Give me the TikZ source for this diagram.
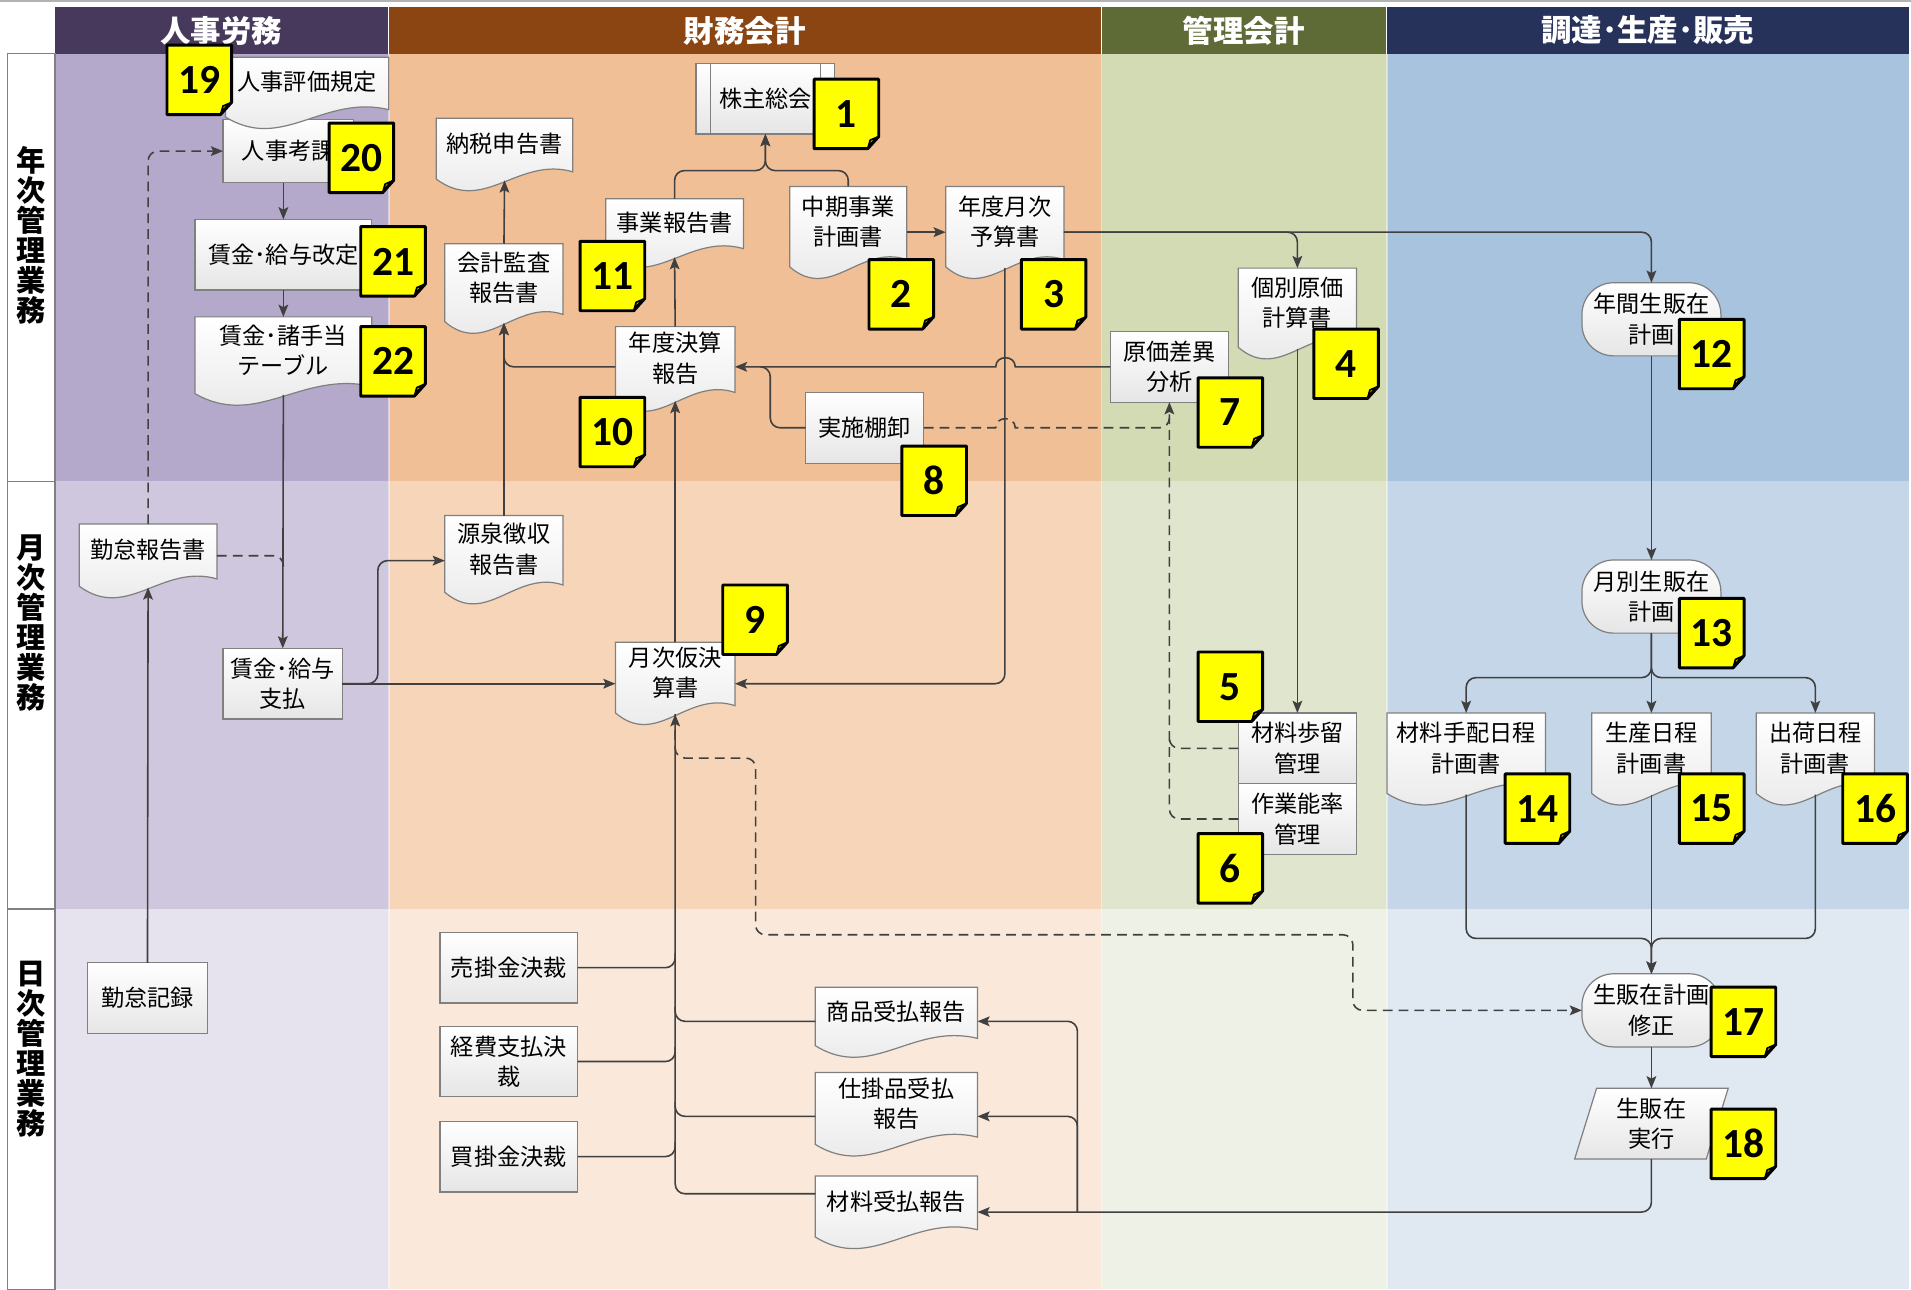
\documentclass[tikz,border=0pt]{standalone}
\usepackage{fontspec}
\setmainfont{Noto Sans CJK JP}
\newfontfamily\numfont{Carlito}
\usetikzlibrary{arrows.meta}
\definecolor{hdA}{HTML}{46395C}
\definecolor{hdB}{HTML}{8B4513}
\definecolor{hdC}{HTML}{5E6B36}
\definecolor{hdD}{HTML}{263259}
\definecolor{pA1}{HTML}{B4A9CA}
\definecolor{pA2}{HTML}{CFC7DD}
\definecolor{pA3}{HTML}{E6E2EE}
\definecolor{pB1}{HTML}{F1BF95}
\definecolor{pB2}{HTML}{F6D5B8}
\definecolor{pB3}{HTML}{FAE9DB}
\definecolor{pC1}{HTML}{D3DBB5}
\definecolor{pC2}{HTML}{E0E5CE}
\definecolor{pC3}{HTML}{EEF1E6}
\definecolor{pD1}{HTML}{A8C3DE}
\definecolor{pD2}{HTML}{C4D6E8}
\definecolor{pD3}{HTML}{E0E9F2}
\definecolor{edgec}{HTML}{808080}
\definecolor{wirec}{HTML}{404040}
\definecolor{badgeY}{HTML}{FFFF00}
\tikzset{
 mybox/.style={draw=edgec, line width=0.5pt, top color=white, bottom color=black!10, inner sep=0pt, outer sep=0pt, align=center, font=\fontsize{9.5}{12.5}\selectfont},
 docfill/.style={draw=edgec, line width=0.5pt, top color=white, bottom color=black!10},
 ntext/.style={inner sep=0pt, outer sep=0pt, align=center, font=\fontsize{9.5}{12.5}\selectfont},
 term/.style={mybox, rounded corners=13pt, minimum width=57pt, minimum height=30pt},
 conn/.style={draw=wirec, line width=0.65pt, rounded corners=4pt, -{Stealth[length=5pt,width=4pt,inset=1pt]}},
 wire/.style={draw=wirec, line width=0.65pt, rounded corners=4pt},
 dconn/.style={conn, dash pattern=on 4pt off 2.5pt},
 dwire/.style={wire, dash pattern=on 4pt off 2.5pt},
 hdr/.style={text=white, inner sep=0pt, font=\bfseries\fontsize{12.5}{14}\selectfont},
 rowlbl/.style={align=center, inner sep=0pt, font=\bfseries\fontsize{12}{12.3}\selectfont},
 badgebg/.style={fill=badgeY, draw=black, line width=1.2pt, line join=round},
 badgetxt/.style={inner sep=0pt, font=\numfont\bfseries\fontsize{17}{17}\selectfont},
}
\newcommand\DocN[6]{%
  \path[docfill] (#2,#3) -- (#4,#3) -- (#4,#5-15) .. controls ({#2+0.6*(#4-#2)},#5-28) and ({#2+0.35*(#4-#2)},#5+20) .. (#2,#5-9) -- cycle;
  \node[ntext, minimum width={(#4-#2)*0.5pt}, minimum height={(#5-8-#3)*0.5pt}] (#1) at ({(#2+#4)/2},{(#3+#5-8)/2}) {};
  \node[ntext] (#1t) at ([yshift=2.25pt]#1.center) {#6};
}
\newcommand\RectN[6]{%
  \node[mybox, minimum width={(#4-#2)*0.5pt}, minimum height={(#5-#3)*0.5pt}] (#1) at ({(#2+#4)/2},{(#3+#5)/2}) {#6};
}
\newcommand\Badge[4]{%
  \path[badgebg] (#2,#3) -- (#2+53,#3) -- (#2+53,#3+47) -- (#2+44,#3+57) -- (#2,#3+57) -- cycle;
  \draw[black, line width=0.7pt, fill=badgeY!80!black, line join=round] (#2+44,#3+57) -- (#2+46,#3+50) -- (#2+53,#3+47) .. controls (#2+49,#3+50) and (#2+46,#3+53) .. (#2+44,#3+57);
  \node[badgetxt] (#1) at (#2+26.5,#3+28.5) {#4};
}
\begin{document}
\begin{tikzpicture}[x=0.5pt,y=-0.5pt]
\useasboundingbox (0,0) rectangle (1568,1058);
\fill[white] (0,0) rectangle (1568,1058);
\draw[black!30, line width=1pt] (0,1) -- (1568,1);
% lanes
\fill[pA1] (45,44) rectangle (319,395);
\fill[pB1] (319,44) rectangle (904,395);
\fill[pC1] (904,44) rectangle (1138,395);
\fill[pD1] (1138,44) rectangle (1566,395);
\fill[pA2] (45,395) rectangle (319,746);
\fill[pB2] (319,395) rectangle (904,746);
\fill[pC2] (904,395) rectangle (1138,746);
\fill[pD2] (1138,395) rectangle (1566,746);
\fill[pA3] (45,746) rectangle (319,1058);
\fill[pB3] (319,746) rectangle (904,1058);
\fill[pC3] (904,746) rectangle (1138,1058);
\fill[pD3] (1138,746) rectangle (1566,1058);
\foreach \xx in {319,904,1138} {\draw[white, opacity=0.45, line width=0.6pt] (\xx,44) -- (\xx,1058);}
% headers
\fill[hdA] (45,6) rectangle (318,44);
\fill[hdB] (319,6) rectangle (903,44);
\fill[hdC] (904,6) rectangle (1137,44);
\fill[hdD] (1138,6) rectangle (1566,44);
\node[hdr] (hA) at (181.5,25) {人事労務};
\node[hdr] (hB) at (611,25) {財務会計};
\node[hdr] (hC) at (1020.5,25) {管理会計};
\node[hdr] (hD) at (1352,25) {調達･生産･販売};
% row labels
\draw[edgec, line width=0.6pt] (6,44) rectangle (45,1058);
\draw[edgec, line width=0.6pt] (6,395) -- (45,395);
\draw[edgec, line width=0.6pt] (6,746) -- (45,746);
\node[rowlbl] (r1) at (25.5,193) {年\\次\\管\\理\\業\\務};
\node[rowlbl] (r2) at (25.5,511) {月\\次\\管\\理\\業\\務};
\node[rowlbl] (r3) at (25.5,861) {日\\次\\管\\理\\業\\務};
% ---- 人事労務
\RectN{kouka}{183}{98}{290}{150}{人事考課}
\DocN{hyoka}{185}{47}{319}{105}{人事評価規定}
\RectN{kaitei}{160}{180}{305}{238}{賃金･給与改定}
\DocN{teate}{160}{260}{305}{332}{賃金･諸手当\\テーブル}
\DocN{kintai}{65}{430}{178}{490}{勤怠報告書}
\RectN{shiharai}{183}{532}{281}{590}{賃金･給与\\支払}
\RectN{kiroku}{72}{790}{170}{848}{勤怠記録}
% ---- 財務会計
\DocN{nozei}{358}{97}{470}{156}{納税申告書}
\RectN{kabu}{571}{52}{685}{110}{株主総会}
\draw[edgec, line width=0.5pt] ([xshift=6pt]kabu.north west) -- ([xshift=6pt]kabu.south west);
\draw[edgec, line width=0.5pt] ([xshift=-6pt]kabu.north east) -- ([xshift=-6pt]kabu.south east);
\DocN{jigyo}{497}{163}{610}{219}{事業報告書}
\DocN{chuki}{648}{153}{744}{228}{中期事業\\計画書}
\DocN{yosan}{776}{153}{873}{228}{年度月次\\予算書}
\DocN{kansa}{365}{200}{462}{273}{会計監査\\報告書}
\DocN{kessan}{505}{268}{603}{337}{年度決算\\報告}
\RectN{tana}{661}{322}{758}{380}{実施棚卸}
\DocN{gensen}{365}{423}{462}{495}{源泉徴収\\報告書}
\DocN{getsuji}{505}{527}{603}{594}{月次仮決\\算書}
\RectN{urikake}{361}{765}{474}{823}{売掛金決裁}
\RectN{keihi}{361}{842}{474}{900}{経費支払決\\裁}
\RectN{kaikake}{361}{920}{474}{978}{買掛金決裁}
\DocN{shohin}{669}{810}{802}{867}{商品受払報告}
\DocN{shikake}{669}{880}{802}{948}{仕掛品受払\\報告}
\DocN{zairyo}{669}{965}{802}{1024}{材料受払報告}
% ---- 管理会計
\DocN{kobetsu}{1016}{220}{1113}{294}{個別原価\\計算書}
\RectN{genka}{911}{272}{1008}{330}{原価差異\\分析}
\RectN{buri}{1016}{585}{1113}{643}{材料歩留\\管理}
\RectN{noritsu}{1016}{643}{1113}{701}{作業能率\\管理}
% ---- 調達・生産・販売
\node[term] (nenkan) at (1355,262) {年間生販在\\計画};
\node[term] (getsubetsu) at (1355,489.5) {月別生販在\\計画};
\DocN{tehai}{1138}{585}{1268}{660}{材料手配日程\\計画書}
\DocN{seisan}{1306}{585}{1404}{660}{生産日程\\計画書}
\DocN{shukka}{1441}{585}{1538}{660}{出荷日程\\計画書}
\node[term] (shusei) at (1355,829) {生販在計画\\修正};
\path[docfill] (1310,893) -- (1418,893) -- (1400,951) -- (1292,951) -- cycle;
\node[ntext, minimum width=45pt, minimum height=29pt] (jikko) at (1355,922) {生販在\\実行};
% ---- coordinates
\coordinate (kj) at (232.5,470);
\coordinate (g1) at (310,460);
\coordinate (k1) at (628,140);
\coordinate (m1) at (632,301);
\coordinate (d1) at (620,622);
\coordinate (d2) at (1110,767);
\coordinate (r1) at (884,994.5);
\coordinate (s1) at (1355,556);
\coordinate (s2) at (1355,770);
% ---- connectors 人事
\draw[conn] (kaitei.north |- kouka.south) -- (kaitei.north);
\draw[conn] (kaitei.south) -- (teate.north);
\draw[conn] (teate.south) -- (shiharai.north);
\draw[dconn] (kintai.north) |- (kouka.west);
\draw[dwire] (kintai.east) -| (kj);
\draw[conn] (kiroku.north) -- (kintai.south);
\draw[conn] (shiharai.east) -| (g1) -- (g1 -| gensen.west);
\draw[conn] (shiharai.east) -- (shiharai.east -| getsuji.west);
% ---- connectors 財務
\draw[conn] (kansa.north) -- (nozei.south);
\draw[conn] (gensen.north) -- (kansa.south);
\draw[conn] (jigyo.north) |- (k1) -- (kabu.south);
\draw[conn] (chuki.north) |- (k1) -- (kabu.south);
\draw[conn] ([yshift=-2pt]chuki.east) -- ([yshift=-2pt]yosan.west);
\draw[conn] ([yshift=-2pt]yosan.east) -| (kobetsu.north);
\draw[conn] ([yshift=-2pt]yosan.east) -| (nenkan.north);
\draw[conn] (yosan.south) |- (shiharai.east -| getsuji.east);
\draw[conn, sharp corners] (genka.west) -- (833,301) .. controls (833,291) and (817,291) .. (817,301) -- (genka.west -| kessan.east);
\draw[wire] (tana.west) -| (m1) -- ([xshift=-4pt]m1);
\draw[conn] (kessan.north) -- (jigyo.south);
\draw[conn] (getsuji.north) -- (kessan.south);
\draw[conn] (genka.west -| kessan.west) -| (kansa.south);
\draw[dwire, sharp corners] (tana.east) -- (817,351) .. controls (817,341) and (833,341) .. (833,351) [rounded corners=4pt] -- (tana.east -| genka.south) -- ++(0,-8);
\draw[dconn] (noritsu.west) -| (genka.south);
\draw[dwire] (buri.west) -- (buri.west -| genka.south) -- ++(0,-10);
\draw[conn] (kobetsu.south) -- (buri.north);
% bottom collection
\draw[conn] ([yshift=5.5pt]zairyo.west) -| (getsuji.south);
\draw[wire] (urikake.east) -- (urikake.east -| getsuji.south) -- ++(0,-12);
\draw[wire] (keihi.east) -- (keihi.east -| getsuji.south) -- ++(0,-12);
\draw[wire] (kaikake.east) -- (kaikake.east -| getsuji.south) -- ++(0,-12);
\draw[wire] ([yshift=-1.75pt]shohin.west) -- ([yshift=-1.75pt]shohin.west -| getsuji.south) -- ++(0,-12);
\draw[wire] ([yshift=-3pt]shikake.west) -- ([yshift=-3pt]shikake.west -| getsuji.south) -- ++(0,-12);
\draw[conn] (jikko.south) |- ([yshift=-2pt]zairyo.east);
\draw[conn] (r1) |- ([yshift=-1.75pt]shohin.east);
\draw[conn] (r1) |- ([yshift=-3pt]shikake.east);
\draw[dconn] (getsuji.south) |- (d1) |- (d2) |- (shusei.west);
% ---- connectors 調達
\draw[conn] (nenkan.south) -- (getsubetsu.north);
\draw[conn] (getsubetsu.south) -- (s1) -| (tehai.north);
\draw[conn] (getsubetsu.south) -- (seisan.north);
\draw[conn] (getsubetsu.south) -- (s1) -| (shukka.north);
\draw[conn] (tehai.south) |- (s2) -- (shusei.north);
\draw[conn] (shukka.south) |- (s2) -- (shusei.north);
\draw[conn] (seisan.south) -- (shusei.north);
\draw[conn] (shusei.south) -- (jikko.north);
% ---- badges
\Badge{b1}{668}{65}{1}
\Badge{b2}{713}{213}{2}
\Badge{b3}{838}{213}{3}
\Badge{b4}{1078}{270}{4}
\Badge{b5}{983}{535}{5}
\Badge{b6}{983}{684}{6}
\Badge{b7}{983}{310}{7}
\Badge{b8}{740}{366}{8}
\Badge{b9}{593}{480}{9}
\Badge{b10}{476}{326}{10}
\Badge{b11}{476}{198}{11}
\Badge{b12}{1378}{262}{12}
\Badge{b13}{1378}{491}{13}
\Badge{b14}{1235}{635}{14}
\Badge{b15}{1378}{635}{15}
\Badge{b16}{1512}{635}{16}
\Badge{b17}{1404}{810}{17}
\Badge{b18}{1404}{910}{18}
\Badge{b19}{137}{37}{19}
\Badge{b20}{270}{101}{20}
\Badge{b21}{296}{186}{21}
\Badge{b22}{296}{268}{22}
\end{tikzpicture}
\end{document}
